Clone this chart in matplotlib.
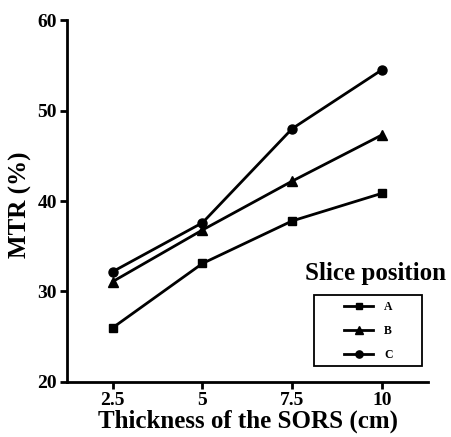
import matplotlib
matplotlib.use("Agg")
import matplotlib.pyplot as plt
from matplotlib.patches import Rectangle

thickness = [2.5, 5, 7.5, 10]
xtick_labels = ["2.5", "5", "7.5", "10"]
series_A = [26.0, 33.1, 37.8, 40.85]
series_B = [31.1, 36.8, 42.2, 47.3]
series_C = [32.2, 37.6, 48.0, 54.5]
series_names = ["A", "B", "C"]
markers = ["s", "^", "o"]
marker_sizes = [6, 7, 6.5]

plt.rcParams['font.family'] = ['Liberation Serif', 'DejaVu Serif']
plt.rcParams['font.weight'] = 'bold'

fig = plt.figure(figsize=(4.52, 4.37), dpi=100)
ax = fig.add_axes([0.148, 0.126, 0.800, 0.828])

for vals, name, m, ms in zip([series_A, series_B, series_C], series_names, markers, marker_sizes):
    ax.plot(thickness, vals, color='black', lw=2, marker=m, ms=ms, label=name)

ax.set_xlim(1.22, 11.3)
ax.set_ylim(20, 60)
ax.set_xticks(thickness)
ax.set_xticklabels(xtick_labels)
ax.set_yticks([20, 30, 40, 50, 60])
for s in ['top', 'right']:
    ax.spines[s].set_visible(False)
for s in ['left', 'bottom']:
    ax.spines[s].set_linewidth(2)
ax.tick_params(width=2, length=5, labelsize=14, pad=2)
for t in ax.get_xticklabels() + ax.get_yticklabels():
    t.set_fontweight('bold')

ax.set_xlabel("Thickness of the SORS (cm)", fontsize=18, fontweight='bold', labelpad=1)
ax.set_ylabel("MTR (%)", fontsize=18, fontweight='bold')
ax.yaxis.set_label_coords(-0.096, 0.49)

leg = ax.legend(loc='center left', bbox_to_anchor=(0.766, 0.141),
                frameon=False, handlelength=2.5, handletextpad=0.9,
                prop={'size': 8.5, 'weight': 'bold'}, borderaxespad=0, borderpad=0,
                labelspacing=1.0, markerscale=0.8)
ax.add_patch(Rectangle((0.683, 0.044), 0.298, 0.196, transform=ax.transAxes,
                       fill=False, edgecolor='black', lw=1.3, clip_on=False))
ax.text(0.853, 0.300, "Slice position", transform=ax.transAxes, ha='center', va='center',
        fontsize=18, fontweight='bold')

fig.savefig("out.png", dpi=100)
